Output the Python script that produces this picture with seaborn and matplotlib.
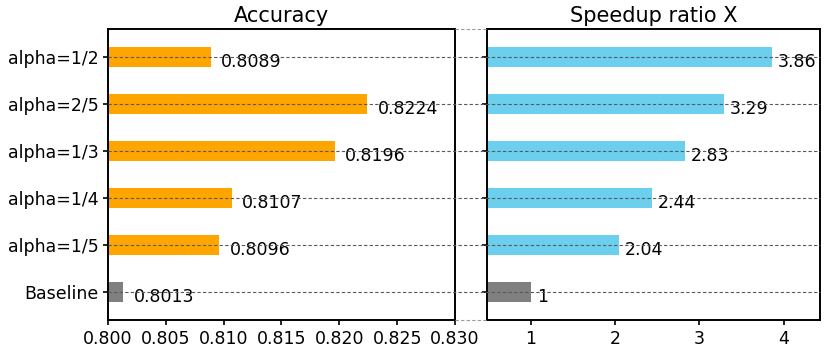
import numpy as np
import pandas as pd
import matplotlib
matplotlib.use("Agg")
import matplotlib.pyplot as plt
from matplotlib.lines import Line2D
from matplotlib.transforms import blended_transform_factory
import seaborn as sns

methods = ['alpha=1/2', 'alpha=2/5', 'alpha=1/3', 'alpha=1/4', 'alpha=1/5', 'Baseline']
accuracy = [0.8089, 0.8224, 0.8196, 0.8107, 0.8096, 0.8013]
speedup = [3.86, 3.29, 2.83, 2.44, 2.04, 1]
acc_labels = ['0.8089', '0.8224', '0.8196', '0.8107', '0.8096', '0.8013']
speed_labels = ['3.86', '3.29', '2.83', '2.44', '2.04', '1']

df = pd.DataFrame({'method': methods, 'accuracy': accuracy, 'speedup': speedup})

acc_colors = ['#FFA500'] * 5 + ['#808080']
speed_colors = ['#6CCFEE'] * 5 + ['#808080']

plt.rcParams['font.size'] = 12.5
plt.rcParams['axes.linewidth'] = 1.4
fig = plt.figure(figsize=(8.3, 3.5), dpi=100)
ax1 = fig.add_axes([108 / 830, 30 / 350, 347 / 830, 291 / 350])
ax2 = fig.add_axes([487 / 830, 30 / 350, 333 / 830, 291 / 350], sharey=ax1)

sns.barplot(data=df, y='method', x='accuracy', hue='method', palette=acc_colors,
            legend=False, width=0.42, ax=ax1, saturation=1)
sns.barplot(data=df, y='method', x='speedup', hue='method', palette=speed_colors,
            legend=False, width=0.42, ax=ax2, saturation=1)

ax1.set_xlim(0.800, 0.830)
ax1.set_xticks([0.800, 0.805, 0.810, 0.815, 0.820, 0.825, 0.830])
ax1.set_xticklabels(['0.800', '0.805', '0.810', '0.815', '0.820', '0.825', '0.830'])
ax2.set_xlim(0.48, 4.43)
ax2.set_xticks([1, 2, 3, 4])
ax1.set_ylim(5.6, -0.6)
plt.setp(ax2.get_yticklabels(), visible=False)

for ax in (ax1, ax2):
    ax.set_xlabel('')
    ax.set_ylabel('')
    ax.tick_params(labelsize=12.5, width=1.2)

ax1.set_title('Accuracy', fontsize=15, pad=5)
ax2.set_title('Speedup ratio X', fontsize=15, pad=5)

for i, (v, t) in enumerate(zip(accuracy, acc_labels)):
    ax1.text(v + 0.0009, i + 0.1, t, va='center', ha='left', fontsize=12.5)
for i, (v, t) in enumerate(zip(speedup, speed_labels)):
    ax2.text(v + 0.07, i + 0.1, t, va='center', ha='left', fontsize=12.5)

# dashed guide lines running across both panels
trans = blended_transform_factory(fig.transFigure, ax1.transData)
x0, x1 = 108 / 830, 820 / 830
for i in range(len(methods)):
    fig.add_artist(Line2D([x0, x1], [i, i], transform=trans, color='0.35',
                          lw=0.8, linestyle=(0, (3, 2))))
gap0, gap1 = 455 / 830, 487 / 830
for y in (-0.6, 5.6):
    fig.add_artist(Line2D([gap0, gap1], [y, y], transform=trans, color='0.6',
                          lw=0.8, linestyle=(0, (3, 2))))

fig.savefig('out.png', dpi=100)
